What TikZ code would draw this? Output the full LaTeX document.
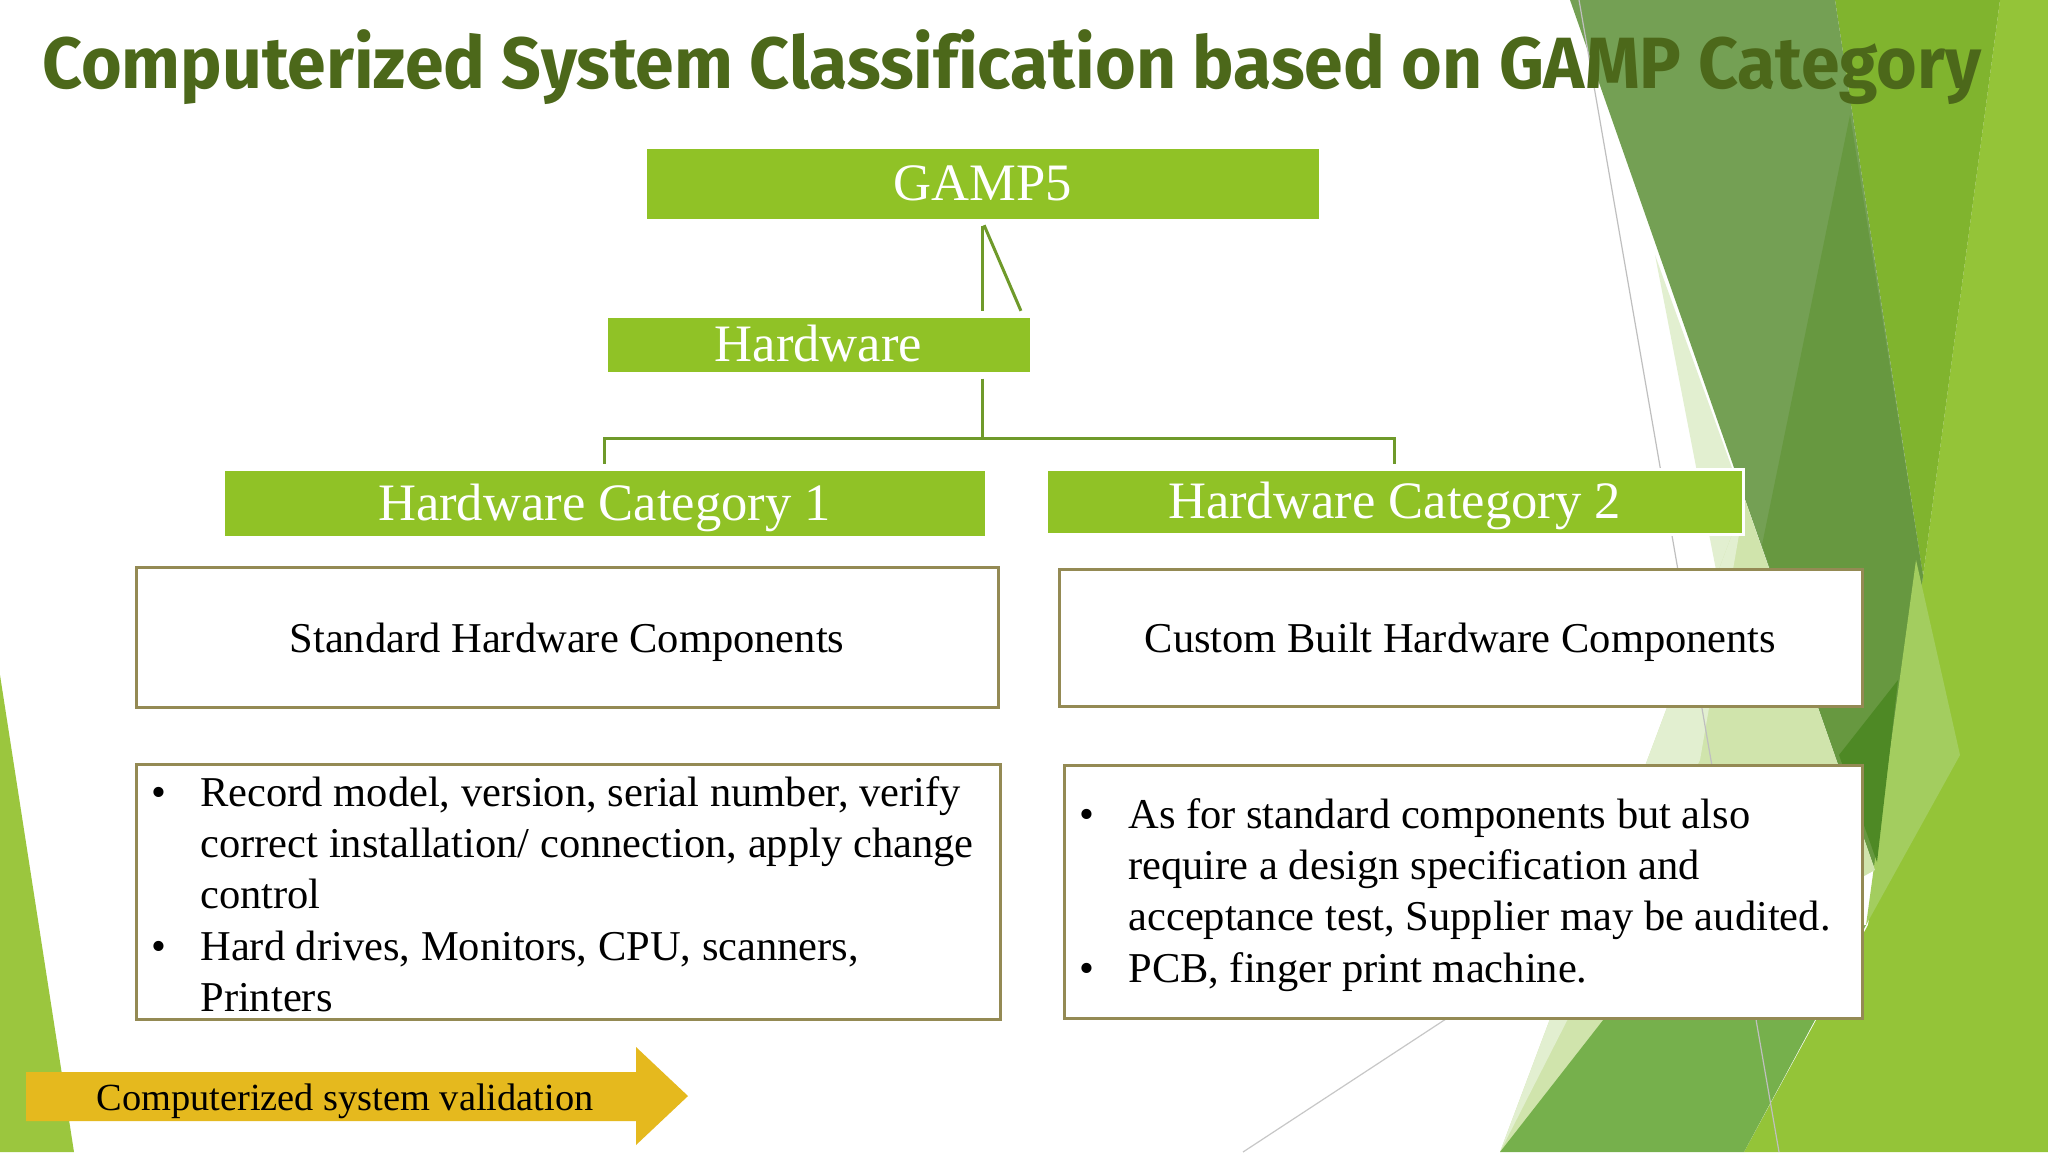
\documentclass[tikz,border=0pt]{standalone}
\usepackage{fontspec}
\setmainfont{Liberation Serif}
\newfontfamily\titlefont{Fira Sans}[Ligatures=CommonOff]
\usetikzlibrary{calc}
\definecolor{titlegreen}{RGB}{76,104,26}
\definecolor{boxgreen}{RGB}{144,194,38}
\definecolor{conngreen}{RGB}{111,154,42}
\definecolor{tanline}{RGB}{148,138,84}
\definecolor{arrowgold}{RGB}{229,185,30}
\definecolor{bgmid}{RGB}{116,160,84}
\definecolor{bgmiddark}{RGB}{103,152,64}
\definecolor{bgband}{RGB}{128,180,46}
\definecolor{bglime}{RGB}{148,196,56}
\definecolor{bglight}{RGB}{163,205,95}
\definecolor{bgdark}{RGB}{78,137,37}
\definecolor{bgpale}{RGB}{226,239,208}
\definecolor{bgpaletwo}{RGB}{208,228,172}
\definecolor{bggreen}{RGB}{118,176,76}
\definecolor{bgleft}{RGB}{155,198,62}
\begin{document}
\begin{tikzpicture}[x=0.5pt,y=-0.5pt,
  gbox/.style={fill=boxgreen, draw=white, line width=1.5pt, text=white, inner sep=0pt,
    font=\fontsize{26.3pt}{30pt}\selectfont, text height=17.4pt, text depth=0pt},
  wbox/.style={fill=white, draw=tanline, line width=1.5pt, inner sep=0pt,
    font=\fontsize{21.25pt}{25.5pt}\selectfont, text height=15pt, text depth=0pt},
  conn/.style={draw=conngreen, line width=1.5pt},
  bultext/.style={anchor=base west, inner sep=0pt, font=\fontsize{21.25pt}{25.7pt}\selectfont}
]
\useasboundingbox (0,0) rectangle (2048,1152);
\fill[white] (0,0) rectangle (2048,1152);

% ---- background facets ----
\fill[bgleft] (0,675) -- (74,1152) -- (0,1152) -- cycle;
\fill[bglime] (2000,0) -- (2048,0) -- (2048,1152) -- (1744,1152) -- (1868,925) -- (1923,576) -- cycle;
\fill[bgband] (1835,0) -- (2000,0) -- (1923,576) -- cycle;
\fill[bgmid] (1570,0) -- (1835,0) -- (1923,576) -- (1875,870) -- cycle;
\fill[bgmiddark] (1850,115) -- (1923,576) -- (1875,870) -- (1762,545) -- cycle;
\fill[bglight] (1916,560) -- (1960,755) -- (1866,925) -- cycle;
\fill[bgdark] (1839,755) -- (1898,680) -- (1877,862) -- cycle;
\fill[bgpale] (1655,255) -- (1771,576) -- (1716,570) -- cycle;
\fill[bgpaletwo] (1745,500) -- (1875,870) -- (1640,1000) -- (1500,1152) -- cycle;
\fill[bgpale] (1745,500) -- (1700,760) -- (1500,1152) -- cycle;
\fill[bggreen] (1500,1152) -- (1650,960) -- (1866,925) -- (1744,1152) -- cycle;
\draw[black!25, line width=0.6pt] (1579,0) -- (1779,1152);
\draw[black!22, line width=0.6pt] (1243,1152) -- (1600,918);

% ---- title ----
\node[anchor=base west, inner sep=0pt, text=titlegreen] (title) at (42,88)
  {\resizebox{969.5pt}{\height}{\titlefont\bfseries\fontsize{36.3pt}{40pt}\selectfont Computerized System Classification based on GAMP Category}};

% ---- green boxes ----
\node[gbox, minimum width=337.5pt, minimum height=36.5pt] (gamp) at (982.5,183.5) {GAMP5};
\node[gbox, minimum width=212.5pt, minimum height=28.5pt] (hw) at (818.5,344.5) {Hardware};
\node[gbox, minimum width=381.5pt, minimum height=34pt] (cat1) at (604.5,503) {Hardware Category 1};
\node[gbox, minimum width=348.5pt, minimum height=32.5pt] (cat2) at (1394.5,501.5) {Hardware Category 2};

% ---- connectors ----
\draw[conn, shorten <=2pt, shorten >=2pt] (gamp.south) -- (gamp.south |- hw.north);
\draw[conn, shorten <=2pt, shorten >=2pt] (gamp.south) -- ($(hw.north east)+(-10,0)$);
\coordinate (jn) at ($(gamp.south |- hw.south)+(0,64)$);
\draw[conn, shorten <=2pt] (gamp.south |- hw.south) -- (jn);
\draw[conn, shorten <=2pt, shorten >=2pt] (cat1.north) |- (jn) -| (cat2.north);

% ---- white boxes ----
\node[wbox, minimum width=431pt, minimum height=70pt] (std) at (567,637) {Standard Hardware Components};
\node[wbox, minimum width=401.5pt, minimum height=68.5pt] (cust) at (1460.5,637.5) {Custom Built Hardware Components};
\node[wbox, minimum width=432pt, minimum height=127.5pt] (bl1) at (568,891.5) {};
\node[wbox, minimum width=399pt, minimum height=126.5pt] (bl2) at (1463,891.5) {};

\node[bultext] (bl1t) at (151,806) {%
  \begin{tabular}[t]{@{}p{24.5pt}@{}l@{}}
  \textbullet & Record model, version, serial number, verify\\
   & correct installation/ connection, apply change\\
   & control\\
  \textbullet & Hard drives, Monitors, CPU, scanners,\\
   & Printers
  \end{tabular}};
\node[bultext] (bl2t) at (1079,828) {%
  \begin{tabular}[t]{@{}p{24.5pt}@{}l@{}}
  \textbullet & As for standard components but also\\
   & require a design specification and\\
   & acceptance test, Supplier may be audited.\\
  \textbullet & PCB, finger print machine.
  \end{tabular}};

% ---- arrow ----
\fill[arrowgold] (26,1072) -- (636,1072) -- (636,1047) -- (688,1096) -- (636,1145) -- (636,1121) -- (26,1121) -- cycle;
\node[anchor=base west, inner sep=0pt, font=\fontsize{19.2pt}{23pt}\selectfont] (csv) at (96,1110) {Computerized system validation};
\end{tikzpicture}
\end{document}
